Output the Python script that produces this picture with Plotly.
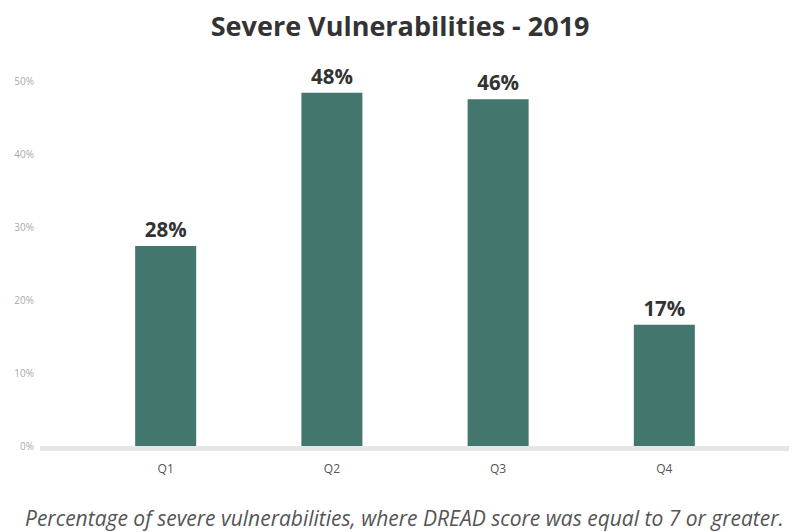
import plotly.graph_objects as go

categories = ["Q1", "Q2", "Q3", "Q4"]
values = [27.4, 48.4, 47.5, 16.6]
labels = ["28%", "48%", "46%", "17%"]
y_ticks = [0, 10, 20, 30, 40, 50]
y_tick_text = ["0%", "10%", "20%", "30%", "40%", "50%"]

fig = go.Figure()
fig.add_trace(go.Bar(
    x=categories, y=values, text=labels, textposition="outside",
    texttemplate="<b>%{text}</b>",
    textfont=dict(family="Open Sans", size=20.5, color="#333333"),
    marker=dict(color="#43766c", line=dict(width=0)),
    width=0.367, cliponaxis=False, hoverinfo="skip",
))

fig.add_shape(type="rect", xref="paper", yref="paper", x0=0, x1=1,
              ysizemode="pixel", yanchor=0, y0=-5, y1=0,
              fillcolor="#e6e6e6", line=dict(width=0), layer="below")

fig.update_layout(
    width=789, height=524,
    margin=dict(l=32, r=7, t=73, b=86),
    paper_bgcolor="white", plot_bgcolor="white",
    title=dict(text="<b>Severe Vulnerabilities - 2019</b>", x=0.497, xanchor="center",
               y=0.965, yanchor="middle",
               font=dict(family="Open Sans", size=27, color="#333333")),
    xaxis=dict(range=[-0.756, 3.756], showgrid=False, showline=False, zeroline=False,
               ticks="", ticklabelstandoff=14,
               tickfont=dict(family="Open Sans", size=12, color="#555555")),
    yaxis=dict(range=[0, 50], tickvals=y_ticks, ticktext=y_tick_text, showgrid=False,
               zeroline=False, showline=False, ticks="", ticklabelstandoff=5,
               tickfont=dict(family="Open Sans", size=10, color="#aaaaaa")),
    showlegend=False,
    annotations=[dict(text="<i>Percentage of severe vulnerabilities, where DREAD score was equal to 7 or greater.</i>",
                      xref="paper", yref="paper", x=0.486, y=-0.197, xanchor="center", yanchor="middle",
                      showarrow=False, font=dict(family="Open Sans", size=21, color="#555555"))],
)

fig.write_html("out.html")
